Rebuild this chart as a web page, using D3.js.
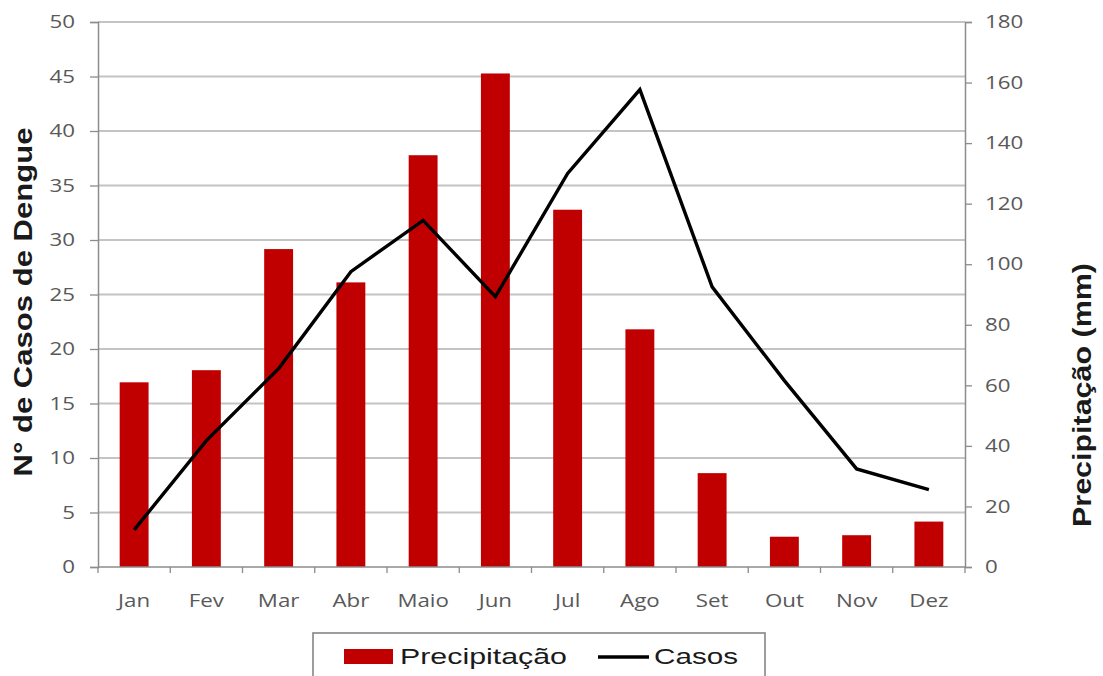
<!DOCTYPE html>
<html>
<head>
<meta charset="utf-8">
<script src="https://cdn.jsdelivr.net/npm/d3@7"></script>
<style>
  html, body { margin: 0; padding: 0; background: #fff; }
  svg { display: block; }
</style>
</head>
<body>
<svg id="chart" width="1103" height="676"></svg>
<script>
// Monthly dengue cases and rainfall
const months = ["Jan", "Fev", "Mar", "Abr", "Maio", "Jun", "Jul", "Ago", "Set", "Out", "Nov", "Dez"];
const precipitacao = [61, 65, 105, 94, 136, 163, 118, 78.5, 31, 10, 10.5, 15];
const casos = [3.4, 11.6, 18.2, 27.1, 31.8, 24.8, 36.1, 43.8, 25.7, 17.1, 9, 7.1];
const casosTicks = [0, 5, 10, 15, 20, 25, 30, 35, 40, 45, 50];
const precTicks = [0, 20, 40, 60, 80, 100, 120, 140, 160, 180];

const svg = d3.select("#chart");
const plotLeft = 98, plotRight = 965, plotTop = 22, plotBottom = 567;

const x = d3.scaleBand().domain(months).range([plotLeft, plotRight]).paddingInner(0.6).paddingOuter(0.3);
const xOuter = d3.scaleBand().domain(months).range([plotLeft, plotRight]);
const yCasos = d3.scaleLinear().domain([0, 50]).range([plotBottom, plotTop]);
const yPrec = d3.scaleLinear().domain([0, 180]).range([plotBottom, plotTop]);

const axisColor = "#8c8c8c";
const labelColor = "#595959";
const tickFont = "'Open Sans', 'Liberation Sans', sans-serif";
const titleFont = "'Liberation Sans', Arial, sans-serif";
const wide = 1.24; // horizontal stretch of the tick lettering

// horizontal gridlines at the case-axis ticks
svg.append("g").selectAll("line").data(casosTicks.filter(d => d > 0)).join("line")
  .attr("x1", plotLeft).attr("x2", plotRight)
  .attr("y1", d => yCasos(d)).attr("y2", d => yCasos(d))
  .attr("stroke", "#c4c4c4").attr("stroke-width", 1.8);

// rainfall bars
svg.append("g").selectAll("rect").data(months).join("rect")
  .attr("x", (d) => x(d))
  .attr("width", x.bandwidth())
  .attr("y", (d, i) => yPrec(precipitacao[i]))
  .attr("height", (d, i) => plotBottom - yPrec(precipitacao[i]))
  .attr("fill", "#c00000");

// cases line
const line = d3.line()
  .x((d, i) => xOuter(months[i]) + xOuter.bandwidth() / 2)
  .y(d => yCasos(d));
svg.append("path").datum(casos)
  .attr("d", line)
  .attr("fill", "none")
  .attr("stroke", "#000")
  .attr("stroke-width", 3.4)
  .attr("stroke-linejoin", "miter");

// left axis
const gLeft = svg.append("g").attr("transform", `translate(${plotLeft},0)`)
  .call(d3.axisLeft(yCasos).tickValues(casosTicks).tickSize(8));
gLeft.selectAll(".tick text").attr("x", 0)
  .attr("transform", `translate(-23,0) scale(${wide},1)`);
// right axis
const gRight = svg.append("g").attr("transform", `translate(${plotRight},0)`)
  .call(d3.axisRight(yPrec).tickValues(precTicks).tickSize(7));
gRight.selectAll(".tick text").attr("x", 0)
  .attr("transform", `translate(20,0) scale(${wide},1)`);

// bottom axis with ticks at category boundaries
const gBottom = svg.append("g").attr("transform", `translate(0,${plotBottom})`);
gBottom.append("line").attr("x1", plotLeft).attr("x2", plotRight).attr("y1", 0).attr("y2", 0)
  .attr("stroke", axisColor).attr("stroke-width", 1.5);
gBottom.selectAll("line.tk").data(months.concat(["end"])).join("line").attr("class", "tk")
  .attr("x1", (d, i) => plotLeft + i * xOuter.step()).attr("x2", (d, i) => plotLeft + i * xOuter.step())
  .attr("y1", 0).attr("y2", 6).attr("stroke", axisColor).attr("stroke-width", 1.3);
gBottom.selectAll("text").data(months).join("text")
  .attr("transform", d => `translate(${xOuter(d) + xOuter.bandwidth() / 2},40) scale(${wide},1)`)
  .attr("text-anchor", "middle")
  .attr("fill", labelColor)
  .style("font-family", tickFont)
  .style("font-size", "18px")
  .text(d => d);

[gLeft, gRight].forEach(g => {
  g.select(".domain").attr("stroke", axisColor).attr("stroke-width", 1.5);
  g.selectAll(".tick line").attr("stroke", axisColor).attr("stroke-width", 1.3);
  g.selectAll(".tick text").attr("fill", labelColor)
    .style("font-family", tickFont).style("font-size", "18px");
});

// axis titles
svg.append("text")
  .attr("transform", `translate(32,302) rotate(-90)`)
  .attr("text-anchor", "middle")
  .attr("textLength", 349).attr("lengthAdjust", "spacingAndGlyphs")
  .style("font-family", titleFont)
  .style("font-size", "26px").style("font-weight", "bold")
  .attr("fill", "#1a1a1a")
  .text("N° de Casos de Dengue");
svg.append("text")
  .attr("transform", `translate(1091,395) rotate(-90)`)
  .attr("text-anchor", "middle")
  .attr("textLength", 264).attr("lengthAdjust", "spacingAndGlyphs")
  .style("font-family", titleFont)
  .style("font-size", "25px").style("font-weight", "bold")
  .attr("fill", "#1a1a1a")
  .text("Precipitação (mm)");

// legend
const legend = svg.append("g");
legend.append("rect").attr("x", 313).attr("y", 633).attr("width", 452).attr("height", 60)
  .attr("fill", "#fff").attr("stroke", "#858585").attr("stroke-width", 1.6);
legend.append("rect").attr("x", 344).attr("y", 649).attr("width", 49).attr("height", 15)
  .attr("fill", "#c00000");
legend.append("text").attr("x", 400).attr("y", 664)
  .attr("textLength", 167).attr("lengthAdjust", "spacingAndGlyphs")
  .style("font-family", titleFont).style("font-size", "22px")
  .attr("fill", "#1a1a1a").text("Precipitação");
legend.append("line").attr("x1", 598).attr("x2", 649).attr("y1", 657).attr("y2", 657)
  .attr("stroke", "#000").attr("stroke-width", 3.4);
legend.append("text").attr("x", 654).attr("y", 664)
  .attr("textLength", 84).attr("lengthAdjust", "spacingAndGlyphs")
  .style("font-family", titleFont).style("font-size", "22px")
  .attr("fill", "#1a1a1a").text("Casos");
</script>
</body>
</html>
